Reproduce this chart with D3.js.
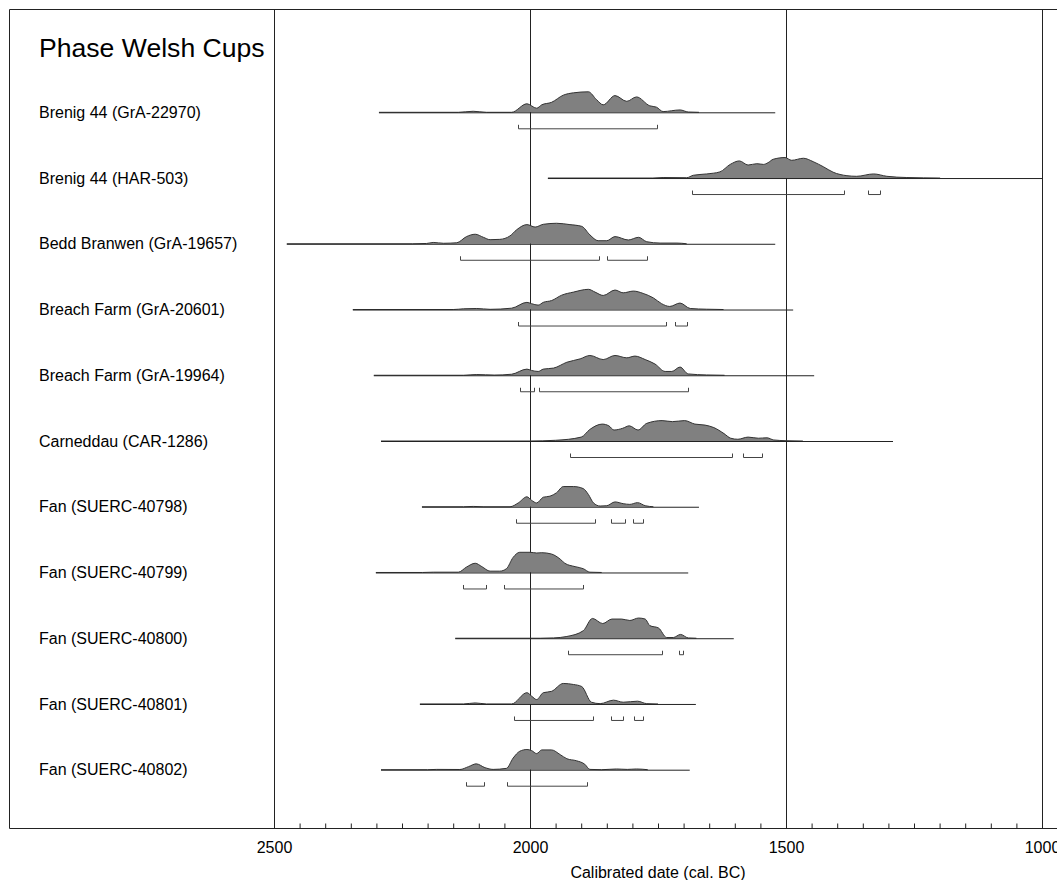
<!DOCTYPE html>
<html lang="en">
<head>
    <meta charset="UTF-8">
    <title>Phase Welsh Cups</title>
    <script src="https://d3js.org/d3.v7.min.js"></script>
    <style>
        body { margin: 0; background: #fff; }
        svg { display: block; font-family: "Liberation Sans", Arial, sans-serif; }
        .grid { stroke: #222; stroke-width: 1px; }
        .row-label { font-size: 16px; fill: #000; }
        .dist { fill: #808080; }
        .dist-line { fill: none; stroke: #333; stroke-width: 1px; }
        .base { stroke: #222; stroke-width: 1px; }
        .hpd { fill: none; stroke: #444; stroke-width: 1px; }
    </style>
</head>
<body>
<div id="chart"></div>
<script>
    // sample names (one row each)
    const labels = [
        "Brenig 44 (GrA-22970)",
        "Brenig 44 (HAR-503)",
        "Bedd Branwen (GrA-19657)",
        "Breach Farm (GrA-20601)",
        "Breach Farm (GrA-19964)",
        "Carneddau (CAR-1286)",
        "Fan (SUERC-40798)",
        "Fan (SUERC-40799)",
        "Fan (SUERC-40800)",
        "Fan (SUERC-40801)",
        "Fan (SUERC-40802)"
    ];

    // extent of the baseline for each row, cal BC
    const spans = [
        [2295, 1521], [1965, 1000], [2475, 1521], [2346, 1486], [2305, 1445], [2291, 1291],
        [2211, 1670], [2301, 1691], [2146, 1602], [2215, 1676], [2291, 1688]
    ];

    // posterior density, [year cal BC, relative probability]
    const densities = [
        [[2295,0],[2140,0],[2111,1],[2085,0],[2036,0],[2006,8.3],[1987,4],[1977,7.3],[1958,9.7],[1935,16.7],[1915,19],[1886,20],[1870,12.3],[1857,7.3],[1834,16.3],[1811,10.7],[1792,15],[1766,6.3],[1753,5],[1740,0.7],[1707,2.3],[1691,0.3],[1670,0]],
        [[1965,0],[1760,0],[1740,0.5],[1694,0.3],[1681,2.7],[1655,4],[1629,6],[1609,13.3],[1591,16.7],[1574,12.7],[1557,14],[1544,13.3],[1535,15],[1525,18.3],[1502,20],[1489,17.3],[1466,19.3],[1447,16],[1427,11],[1408,5.7],[1381,2.3],[1362,1.7],[1329,4],[1303,1.7],[1264,0.5],[1199,0]],
        [[2475,0],[2230,0],[2202,0.3],[2189,1.3],[2169,0.5],[2143,1],[2124,7],[2107,9.3],[2091,6.3],[2078,4],[2059,4.3],[2039,7.7],[2026,13.7],[2006,18.7],[1990,16.3],[1974,19],[1948,20],[1922,18.7],[1899,17],[1883,8.7],[1867,3],[1850,3],[1834,7],[1808,3.7],[1788,6.3],[1772,2],[1746,0.7],[1713,0.7],[1694,0]],
        [[2346,0],[2150,0],[2130,0.7],[2104,1],[2078,0.2],[2036,1.3],[2006,7],[1997,5.7],[1984,4.3],[1974,7],[1958,8.7],[1938,14],[1915,17],[1886,19.7],[1873,17],[1857,13.7],[1834,19],[1818,16.3],[1798,18],[1779,15.7],[1759,11.3],[1743,5.7],[1727,3],[1707,6.3],[1687,1],[1655,0.3],[1622,0]],
        [[2305,0],[2130,0],[2104,0.7],[2070,0.2],[2036,1],[2006,6],[1997,4.7],[1984,3.7],[1974,6],[1954,7],[1928,12.7],[1902,16],[1883,19.3],[1857,15.3],[1834,19.3],[1811,17],[1795,18.7],[1775,15.3],[1756,11],[1736,3.7],[1723,3.7],[1707,8],[1691,1.3],[1655,0.3],[1620,0]],
        [[2291,0],[2000,0],[1950,0.7],[1900,3.8],[1883,11.3],[1859,16.5],[1846,14.8],[1836,10.7],[1819,12.4],[1806,14.8],[1789,10.7],[1772,17.2],[1742,19.9],[1722,18.9],[1698,19.9],[1678,16.5],[1658,15.5],[1641,13.1],[1621,7.2],[1608,2.7],[1594,1.7],[1574,3.8],[1554,2.7],[1537,3.1],[1524,1],[1500,0.3],[1467,0]],
        [[2211,0],[2130,0],[2111,0.3],[2090,0],[2039,0],[2023,3.7],[2006,9.7],[1997,6.3],[1987,3.7],[1974,9.3],[1961,10.3],[1948,13.7],[1935,19.7],[1915,19.7],[1896,17.7],[1886,12],[1876,3.7],[1863,0.7],[1850,1],[1834,4.7],[1818,3],[1805,2.3],[1790,4],[1775,1],[1759,0]],
        [[2301,0],[2210,0],[2189,0.3],[2140,0.3],[2124,5.3],[2107,9],[2094,5.7],[2078,1.3],[2059,1.3],[2046,3.7],[2033,14.7],[2020,19.7],[2000,19.7],[1987,19],[1977,19.3],[1958,18],[1941,13],[1932,9],[1912,5.7],[1896,3.7],[1883,0.3],[1860,0]],
        [[2146,0],[1980,0],[1954,0.3],[1928,1.7],[1896,7.3],[1878,19.3],[1858,14.3],[1840,18.7],[1821,18.7],[1805,17.3],[1788,19.7],[1775,18.7],[1766,12.3],[1749,10],[1733,0.7],[1720,0.7],[1706,3.7],[1691,0.3],[1675,0]],
        [[2215,0],[2130,0],[2107,1],[2085,0],[2036,0],[2006,11],[1997,7.7],[1987,4.3],[1974,11],[1958,12.3],[1935,20],[1915,19],[1899,17],[1880,1.7],[1863,0.3],[1837,3.7],[1818,1.7],[1790,2.7],[1772,0.3],[1750,0]],
        [[2291,0],[2200,0],[2182,0.3],[2137,0.2],[2120,3],[2105,5.7],[2088,2],[2072,0.3],[2046,1.3],[2033,11.3],[2020,18],[2006,19.7],[1997,18.7],[1987,15.7],[1977,19.3],[1958,19.3],[1941,14.7],[1928,10.7],[1909,8.7],[1893,5.3],[1883,0.3],[1860,0],[1831,0.7],[1810,0.3],[1792,0.7],[1770,0]]
    ];

    // 95.4% ranges under each distribution
    const hpdRanges = [
        [[2024,1751]],
        [[1684,1386],[1339,1316]],
        [[2137,1865],[1849,1772]],
        [[2024,1735],[1717,1694]],
        [[2020,1993],[1982,1691]],
        [[1922,1606],[1584,1546]],
        [[2028,1873],[1842,1814],[1798,1779]],
        [[2130,2086],[2050,1896]],
        [[1926,1742],[1709,1701]],
        [[2031,1876],[1842,1819],[1796,1780]],
        [[2125,2090],[2044,1889]]
    ];

    const majorTicks = [2500, 2000, 1500, 1000];
    const minorTicks = d3.range(2450, 1000, -50).filter(d => d % 500 !== 0);

    const width = 1057, height = 880;
    const frameLeft = 9.5, frameTop = 9.5, axisY = 828.5;

    const svg = d3.select("#chart").append("svg")
        .attr("width", width)
        .attr("height", height);

    const x = d3.scaleLinear().domain([2500, 1000]).range([274, 1042]);
    const y = d3.scalePoint().domain(labels).range([112.3, 769.7]);
    const h = d3.scaleLinear().domain([0, 20]).range([0, 20.5]);

    // frame
    svg.append("line").attr("class", "grid")
        .attr("x1", frameLeft).attr("x2", frameLeft)
        .attr("y1", frameTop).attr("y2", axisY);
    svg.append("line").attr("class", "grid")
        .attr("x1", frameLeft).attr("x2", width + 20)
        .attr("y1", frameTop).attr("y2", frameTop);
    svg.append("line").attr("class", "grid")
        .attr("x1", frameLeft).attr("x2", width + 20)
        .attr("y1", axisY).attr("y2", axisY);

    // vertical grid at 500-year steps
    svg.append("g").selectAll("line")
        .data(majorTicks)
        .join("line")
        .attr("class", "grid")
        .attr("x1", d => Math.round(x(d)) + 0.5)
        .attr("x2", d => Math.round(x(d)) + 0.5)
        .attr("y1", frameTop)
        .attr("y2", axisY);

    // minor ticks pointing up, labels below
    const minorAxis = d3.axisTop(x).tickValues(minorTicks).tickSize(5).tickFormat("");
    svg.append("g")
        .attr("transform", `translate(0,${axisY})`)
        .call(minorAxis)
        .call(g => g.select(".domain").remove())
        .call(g => g.selectAll(".tick line").attr("stroke", "#222"));

    const labelAxis = d3.axisBottom(x).tickValues(majorTicks).tickSize(0).tickPadding(13)
        .tickFormat(d3.format("d"));
    svg.append("g")
        .attr("transform", `translate(0,${axisY})`)
        .call(labelAxis)
        .call(g => g.select(".domain").remove())
        .call(g => g.selectAll(".tick text")
            .attr("font-size", 16)
            .attr("font-family", "'Liberation Sans', Arial, sans-serif")
            .attr("fill", "#000"));

    svg.append("text")
        .attr("x", (x(2500) + x(1000)) / 2)
        .attr("y", 878)
        .attr("text-anchor", "middle")
        .attr("font-size", 16)
        .text("Calibrated date (cal. BC)");

    // title
    svg.append("text")
        .attr("x", 39)
        .attr("y", 57)
        .attr("font-size", 26.6)
        .text("Phase Welsh Cups");

    // rows
    const rows = svg.append("g").selectAll("g")
        .data(labels.map((name, i) => ({
            name, span: spans[i], dens: densities[i], hpd: hpdRanges[i]
        })))
        .join("g")
        .attr("transform", d => `translate(0,${y(d.name)})`);

    rows.append("text")
        .attr("class", "row-label")
        .attr("x", 39)
        .attr("y", 0)
        .attr("dy", "0.35em")
        .text(d => d.name);

    const area = d3.area()
        .x(p => x(p[0]))
        .y0(0)
        .y1(p => -h(p[1]))
        .curve(d3.curveMonotoneX);
    const topLine = d3.line()
        .x(p => x(p[0]))
        .y(p => -h(p[1]))
        .curve(d3.curveMonotoneX);

    rows.append("path")
        .attr("class", "dist")
        .attr("d", d => area(d.dens));
    rows.append("path")
        .attr("class", "dist-line")
        .attr("d", d => topLine(d.dens));

    rows.append("line")
        .attr("class", "base")
        .attr("x1", d => x(d.span[0]))
        .attr("x2", d => x(d.span[1]))
        .attr("y1", 0.5)
        .attr("y2", 0.5);

    // range brackets
    rows.each(function(d) {
        d3.select(this).selectAll("path.hpd")
            .data(d.hpd)
            .join("path")
            .attr("class", "hpd")
            .attr("d", r => {
                const x0 = Math.round(x(r[0])) + 0.5, x1 = Math.round(x(r[1])) + 0.5;
                return `M${x0},12.5V16.5H${x1}V12.5`;
            });
    });
</script>
</body>
</html>
